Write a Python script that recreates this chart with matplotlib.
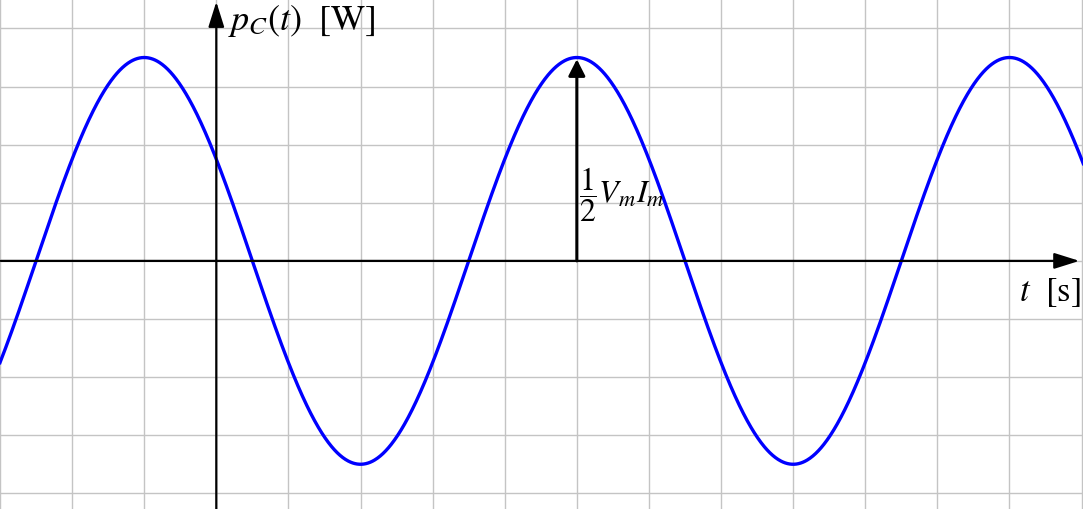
import numpy as np
import matplotlib
matplotlib.use("Agg")
import matplotlib.pyplot as plt

plt.rcParams['mathtext.fontset'] = 'stix'
plt.rcParams['font.family'] = ['STIXGeneral', 'DejaVu Serif']

# Values (grid units)
amplitude = 3.5          # peak of p_C(t)
period = 6.0             # period of the oscillation
peak_t = 5.0             # time of the annotated peak
x_grid = list(range(-3, 13))
y_grid = list(range(-4, 5))
y_label = r'$p_C(t)\ \ [\mathrm{W}]$'
x_label = r'$t\ \ [\mathrm{s}]$'
amp_label = r'$\dfrac{1}{2}V_m I_m$'

t = np.linspace(-3.1, 12.2, 2000)
p = amplitude * np.cos(2 * np.pi * (t - peak_t) / period)

fig = plt.figure(figsize=(10.83, 5.09), dpi=100)
ax = fig.add_axes([0, 0, 1, 1])
xmin, xmax = -2.99, 12.02
ymin, ymax = -4.27, 4.49
ax.set_xlim(xmin, xmax)
ax.set_ylim(ymin, ymax)

ax.set_xticks(x_grid)
ax.set_yticks(y_grid)
ax.tick_params(length=0, labelbottom=False, labelleft=False)
ax.grid(True, color='#c4c4c4', lw=1.0)
for s in ax.spines.values():
    s.set_visible(False)

ax.plot(t, p, color='#0000ff', lw=2.4, zorder=3)

arrow = dict(arrowstyle='-|>,head_length=0.7,head_width=0.22', color='black',
             lw=1.6, mutation_scale=22, shrinkA=0, shrinkB=0)
ax.annotate('', xy=(11.97, 0), xytext=(xmin, 0), arrowprops=arrow, zorder=4)
ax.annotate('', xy=(0, 4.46), xytext=(0, ymin), arrowprops=arrow, zorder=4)
ax.annotate('', xy=(peak_t, amplitude - 0.03), xytext=(peak_t, 0),
            arrowprops=dict(arrowstyle='-|>,head_length=0.55,head_width=0.28', color='black',
                            lw=2.2, mutation_scale=18, shrinkA=0, shrinkB=0), zorder=4)

ax.text(0.16, 4.13, y_label, fontsize=26, ha='left', va='center')
ax.text(11.13, -0.55, x_label, fontsize=25, ha='left', va='center')
ax.text(peak_t + 0.03, 1.15, amp_label, fontsize=23, ha='left', va='center')

fig.savefig('out.png', dpi=100)
